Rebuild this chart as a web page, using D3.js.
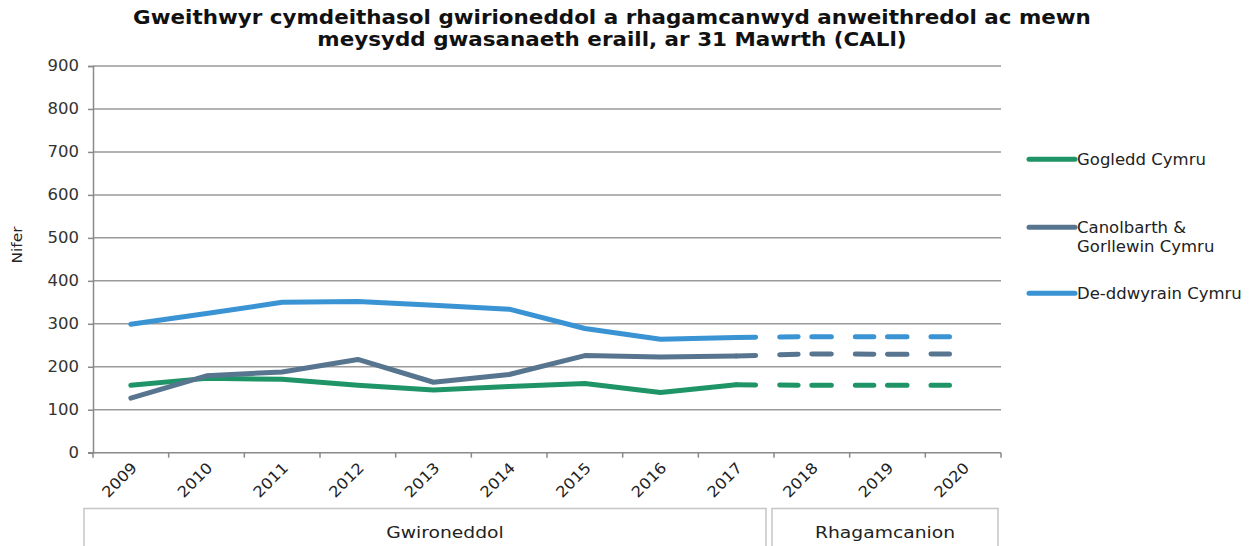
<!DOCTYPE html>
<html>
<head>
<meta charset="utf-8">
<script src="https://cdn.jsdelivr.net/npm/d3@7"></script>
<style>
  html, body { margin: 0; padding: 0; background: #fff; }
  svg { display: block; font-family: "DejaVu Sans", Verdana, sans-serif; }
</style>
</head>
<body>
<svg id="chart" width="1252" height="546"></svg>
<script>
// Years on the category axis
const years = ["2009", "2010", "2011", "2012", "2013", "2014", "2015", "2016", "2017", "2018", "2019", "2020"];
const actualYears = ["2009", "2010", "2011", "2012", "2013", "2014", "2015", "2016", "2017"];
const projectedYears = ["2017", "2018", "2019", "2020"];

// Series values (FTE), actual and projected
const gogleddActual = [157, 173, 171, 157, 146, 154, 161, 140, 158];
const gogleddProjected = [158, 157, 157, 157];
const canolbarthActual = [127, 179, 188, 217, 164, 182, 226, 223, 225];
const canolbarthProjected = [225, 230, 229, 230];
const deddwyrainActual = [299, 324, 350, 352, 343, 334, 289, 264, 268];
const deddwyrainProjected = [268, 270, 270, 270];

const seriesNames = ["Gogledd Cymru", "Canolbarth & Gorllewin Cymru", "De-ddwyrain Cymru"];
const seriesColors = ["#1f9467", "#587590", "#3a93d3"];

const yTicks = [0, 100, 200, 300, 400, 500, 600, 700, 800, 900];

const groupLabels = ["Gwironeddol", "Rhagamcanion"];
const groupStarts = ["2009", "2018"];
const groupEnds = ["2017", "2020"];

const titleLines = [
  "Gweithwyr cymdeithasol gwirioneddol a rhagamcanwyd anweithredol ac mewn",
  "meysydd gwasanaeth eraill, ar 31 Mawrth (CALl)"
];

// Widen the glyphs a little (Verdana-like proportions)
const WIDEN = 1.1;
function widen(sel, factor = WIDEN) {
  sel.each(function () {
    const len = this.getComputedTextLength();
    if (len > 0) {
      d3.select(this)
        .attr("textLength", len * factor)
        .attr("lengthAdjust", "spacingAndGlyphs");
    }
  });
  return sel;
}

const svg = d3.select("#chart");

const x = d3.scaleBand().domain(years).range([93, 1001]);
const y = d3.scaleLinear().domain([0, 900]).range([452.7, 66]);
const cx = d => x(d) + x.bandwidth() / 2;

// Title
svg.append("g").selectAll("text").data(titleLines).join("text")
  .attr("x", 612)
  .attr("y", (d, i) => 24 + i * 22)
  .attr("text-anchor", "middle")
  .attr("font-size", 19.5)
  .attr("font-weight", "bold")
  .attr("fill", "#111")
  .text(d => d)
  .call(widen);

// Horizontal gridlines
svg.append("g").selectAll("line").data(yTicks.filter(t => t > 0)).join("line")
  .attr("x1", 93).attr("x2", 1001)
  .attr("y1", d => y(d)).attr("y2", d => y(d))
  .attr("stroke", "#9a9a9a").attr("stroke-width", 1.5);

// Y axis
const yAxis = d3.axisLeft(y).tickValues(yTicks).tickSize(5).tickPadding(9);
const gy = svg.append("g").attr("transform", "translate(93,0)").call(yAxis);
gy.select(".domain").attr("stroke", "#8a8a8a").attr("stroke-width", 1.5);
gy.selectAll(".tick line").attr("stroke", "#8a8a8a").attr("stroke-width", 1.5);
gy.selectAll(".tick text")
  .attr("font-family", "DejaVu Sans, Verdana, sans-serif")
  .attr("font-size", 15).attr("fill", "#333")
  .call(widen);

svg.append("text")
  .attr("transform", "translate(22,245) rotate(-90)")
  .attr("text-anchor", "middle")
  .attr("font-size", 14)
  .attr("fill", "#222")
  .text("Nifer")
  .call(widen);

// X axis: tick marks at the band boundaries
const gx = svg.append("g").attr("transform", `translate(0,${y(0)})`);
gx.append("line").attr("x1", 88).attr("x2", 1001)
  .attr("stroke", "#8a8a8a").attr("stroke-width", 1.5);
gx.selectAll("line.tk").data(years.concat(["end"])).join("line")
  .attr("class", "tk")
  .attr("x1", (d, i) => x.range()[0] + i * x.bandwidth())
  .attr("x2", (d, i) => x.range()[0] + i * x.bandwidth())
  .attr("y1", 0).attr("y2", 5)
  .attr("stroke", "#8a8a8a").attr("stroke-width", 1.5);
gx.selectAll("text").data(years).join("text")
  .attr("transform", d => `translate(${cx(d) + 7},16) rotate(-45)`)
  .attr("text-anchor", "end")
  .attr("font-size", 15)
  .attr("fill", "#222")
  .text(d => d)
  .call(widen);

// Category group boxes under the axis
const groupCenters = [445, null];
const groups = svg.append("g");
groupLabels.forEach((label, i) => {
  const left = i === 0 ? x(groupStarts[i]) - 9 : x(groupStarts[i]) - 2;
  const right = i === 0 ? x(groupEnds[i]) + x.bandwidth() - 8 : x(groupEnds[i]) + x.bandwidth() - 3;
  groups.append("path")
    .attr("d", `M${left},550 V508.5 H${right} V550`)
    .attr("fill", "none").attr("stroke", "#c6c6c6").attr("stroke-width", 1.5);
  groups.append("text")
    .attr("x", groupCenters[i] !== null ? groupCenters[i] : (left + right) / 2)
    .attr("y", 538)
    .attr("text-anchor", "middle")
    .attr("font-size", 16)
    .attr("fill", "#222")
    .text(label)
    .call(widen, 1.17);
});

// Lines
const line = d3.line().x(d => cx(d.year)).y(d => y(d.value));
const zip = (ys, vs) => ys.map((yr, i) => ({ year: yr, value: vs[i] }));

const actualSeries = [gogleddActual, canolbarthActual, deddwyrainActual];
const projectedSeries = [gogleddProjected, canolbarthProjected, deddwyrainProjected];

// Each projected interval restarts the dash pattern: two dashes per category step
const dashPattern = [19.5, 24, 18.5, 200].join(",");

const plot = svg.append("g");
actualSeries.forEach((vals, i) => {
  plot.append("path")
    .attr("d", line(zip(actualYears, vals)))
    .attr("fill", "none")
    .attr("stroke", seriesColors[i])
    .attr("stroke-width", 5)
    .attr("stroke-linejoin", "round")
    .attr("stroke-linecap", "round");
});
projectedSeries.forEach((vals, i) => {
  const pts = zip(projectedYears, vals);
  d3.pairs(pts).forEach(seg => {
    plot.append("path")
      .attr("d", line(seg))
      .attr("fill", "none")
      .attr("stroke", seriesColors[i])
      .attr("stroke-width", 5)
      .attr("stroke-dasharray", dashPattern)
      .attr("stroke-linecap", "round");
  });
});

// Legend
const legendY = [159.3, 227.3, 293.3];
const legendLines = [["Gogledd Cymru"], ["Canolbarth &", "Gorllewin Cymru"], ["De-ddwyrain Cymru"]];
const legend = svg.append("g");
seriesNames.forEach((name, i) => {
  legend.append("line")
    .attr("x1", 1029).attr("x2", 1075)
    .attr("y1", legendY[i]).attr("y2", legendY[i])
    .attr("stroke", seriesColors[i]).attr("stroke-width", 5)
    .attr("stroke-linecap", "round");
  legendLines[i].forEach((txt, j) => {
    legend.append("text")
      .attr("x", 1077).attr("y", legendY[i] + 5.5 + j * 19.5)
      .attr("font-size", 15)
      .attr("fill", "#222")
      .text(txt)
      .call(widen);
  });
});
</script>
</body>
</html>
